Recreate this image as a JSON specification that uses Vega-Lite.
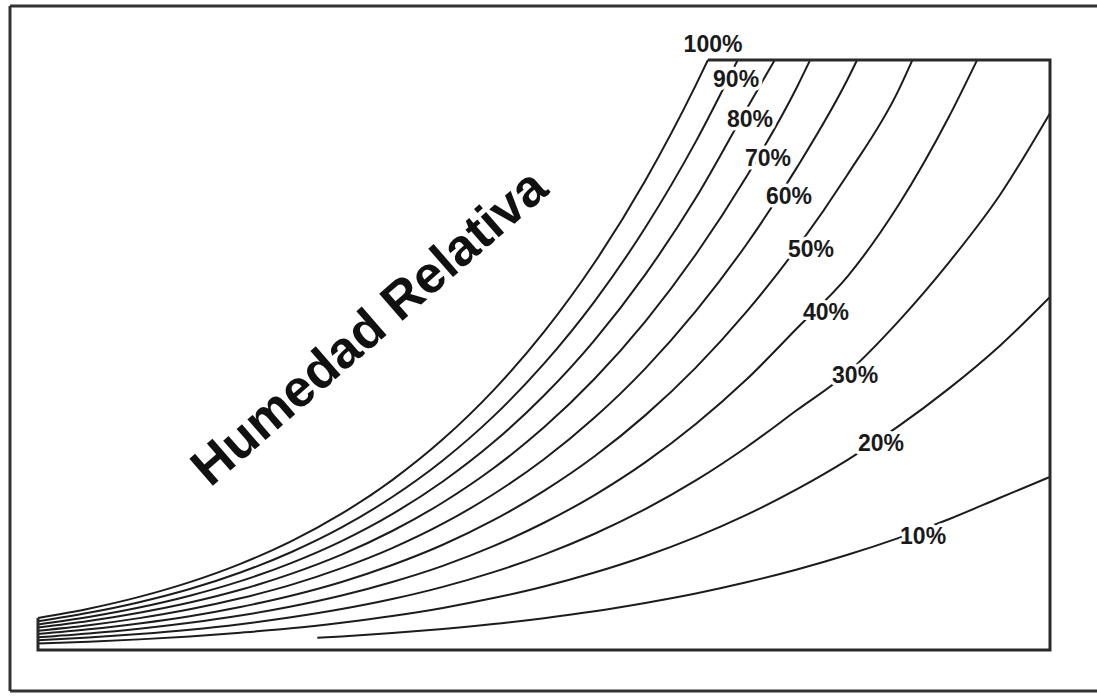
{
  "$schema": "https://vega.github.io/schema/vega-lite/v6.json",
  "width": 1087,
  "height": 685,
  "padding": {"left": 10, "top": 6, "right": 0, "bottom": 5},
  "autosize": {"type": "none"},
  "background": "white",
  "config": {"view": {"stroke": null}},
  "datasets": {
    "curves": [
      {"rh":"100%","t":0,"w":1.63},{"rh":"100%","t":2.5,"w":2.10},{"rh":"100%","t":5,"w":2.70},{"rh":"100%","t":7.5,"w":3.45},{"rh":"100%","t":10,"w":4.38},{"rh":"100%","t":12.5,"w":5.52},{"rh":"100%","t":15,"w":6.93},{"rh":"100%","t":17.5,"w":8.64},{"rh":"100%","t":20,"w":10.71},{"rh":"100%","t":22.5,"w":13.20},{"rh":"100%","t":25,"w":16.17},{"rh":"100%","t":27.5,"w":19.70},{"rh":"100%","t":30,"w":23.86},{"rh":"100%","t":32.5,"w":28.72},{"rh":"100%","t":33.1,"w":30},
      {"rh":"90%","t":0,"w":1.46},{"rh":"90%","t":2.5,"w":1.89},{"rh":"90%","t":5,"w":2.43},{"rh":"90%","t":7.5,"w":3.10},{"rh":"90%","t":10,"w":3.94},{"rh":"90%","t":12.5,"w":4.97},{"rh":"90%","t":15,"w":6.23},{"rh":"90%","t":17.5,"w":7.78},{"rh":"90%","t":20,"w":9.64},{"rh":"90%","t":22.5,"w":11.88},{"rh":"90%","t":25,"w":14.56},{"rh":"90%","t":27.5,"w":17.73},{"rh":"90%","t":30,"w":21.47},{"rh":"90%","t":32.5,"w":25.85},{"rh":"90%","t":34.57,"w":30},
      {"rh":"80%","t":0,"w":1.30},{"rh":"80%","t":2.5,"w":1.68},{"rh":"80%","t":5,"w":2.16},{"rh":"80%","t":7.5,"w":2.76},{"rh":"80%","t":10,"w":3.50},{"rh":"80%","t":12.5,"w":4.42},{"rh":"80%","t":15,"w":5.54},{"rh":"80%","t":17.5,"w":6.91},{"rh":"80%","t":20,"w":8.57},{"rh":"80%","t":22.5,"w":10.56},{"rh":"80%","t":25,"w":12.94},{"rh":"80%","t":27.5,"w":15.76},{"rh":"80%","t":30,"w":19.09},{"rh":"80%","t":32.5,"w":22.98},{"rh":"80%","t":35,"w":27.50},{"rh":"80%","t":36.4,"w":30},
      {"rh":"70%","t":0,"w":1.14},{"rh":"70%","t":2.5,"w":1.47},{"rh":"70%","t":5,"w":1.89},{"rh":"70%","t":7.5,"w":2.41},{"rh":"70%","t":10,"w":3.06},{"rh":"70%","t":12.5,"w":3.87},{"rh":"70%","t":15,"w":4.85},{"rh":"70%","t":17.5,"w":6.05},{"rh":"70%","t":20,"w":7.50},{"rh":"70%","t":22.5,"w":9.24},{"rh":"70%","t":25,"w":11.32},{"rh":"70%","t":27.5,"w":13.79},{"rh":"70%","t":30,"w":16.70},{"rh":"70%","t":32.5,"w":20.11},{"rh":"70%","t":35,"w":24.06},{"rh":"70%","t":37.5,"w":28.63},{"rh":"70%","t":38.15,"w":30},
      {"rh":"60%","t":0,"w":0.98},{"rh":"60%","t":2.5,"w":1.26},{"rh":"60%","t":5,"w":1.62},{"rh":"60%","t":7.5,"w":2.07},{"rh":"60%","t":10,"w":2.63},{"rh":"60%","t":12.5,"w":3.31},{"rh":"60%","t":15,"w":4.16},{"rh":"60%","t":17.5,"w":5.18},{"rh":"60%","t":20,"w":6.42},{"rh":"60%","t":22.5,"w":7.92},{"rh":"60%","t":25,"w":9.70},{"rh":"60%","t":27.5,"w":11.82},{"rh":"60%","t":30,"w":14.31},{"rh":"60%","t":32.5,"w":17.23},{"rh":"60%","t":35,"w":20.62},{"rh":"60%","t":37.5,"w":24.54},{"rh":"60%","t":40,"w":29.02},{"rh":"60%","t":40.47,"w":30},
      {"rh":"50%","t":0,"w":0.81},{"rh":"50%","t":2.5,"w":1.05},{"rh":"50%","t":5,"w":1.35},{"rh":"50%","t":7.5,"w":1.72},{"rh":"50%","t":10,"w":2.19},{"rh":"50%","t":12.5,"w":2.76},{"rh":"50%","t":15,"w":3.46},{"rh":"50%","t":17.5,"w":4.32},{"rh":"50%","t":20,"w":5.35},{"rh":"50%","t":22.5,"w":6.60},{"rh":"50%","t":25,"w":8.09},{"rh":"50%","t":27.5,"w":9.85},{"rh":"50%","t":30,"w":11.93},{"rh":"50%","t":32.5,"w":14.36},{"rh":"50%","t":35,"w":17.19},{"rh":"50%","t":37.5,"w":20.45},{"rh":"50%","t":40,"w":24.18},{"rh":"50%","t":42.5,"w":28.43},{"rh":"50%","t":43.2,"w":30},
      {"rh":"40%","t":0,"w":0.65},{"rh":"40%","t":2.5,"w":0.84},{"rh":"40%","t":5,"w":1.08},{"rh":"40%","t":7.5,"w":1.38},{"rh":"40%","t":10,"w":1.75},{"rh":"40%","t":12.5,"w":2.21},{"rh":"40%","t":15,"w":2.77},{"rh":"40%","t":17.5,"w":3.46},{"rh":"40%","t":20,"w":4.28},{"rh":"40%","t":22.5,"w":5.28},{"rh":"40%","t":25,"w":6.47},{"rh":"40%","t":27.5,"w":7.88},{"rh":"40%","t":30,"w":9.54},{"rh":"40%","t":32.5,"w":11.49},{"rh":"40%","t":35,"w":13.75},{"rh":"40%","t":37.5,"w":16.36},{"rh":"40%","t":40,"w":19.0},{"rh":"40%","t":42.5,"w":22.6},{"rh":"40%","t":45,"w":27.1},{"rh":"40%","t":46.4,"w":30},
      {"rh":"30%","t":0,"w":0.49},{"rh":"30%","t":2.5,"w":0.63},{"rh":"30%","t":5,"w":0.81},{"rh":"30%","t":7.5,"w":1.03},{"rh":"30%","t":10,"w":1.31},{"rh":"30%","t":12.5,"w":1.66},{"rh":"30%","t":15,"w":2.08},{"rh":"30%","t":17.5,"w":2.59},{"rh":"30%","t":20,"w":3.21},{"rh":"30%","t":22.5,"w":3.96},{"rh":"30%","t":25,"w":4.85},{"rh":"30%","t":27.5,"w":5.91},{"rh":"30%","t":30,"w":7.16},{"rh":"30%","t":32.5,"w":8.62},{"rh":"30%","t":35,"w":10.31},{"rh":"30%","t":37.5,"w":12.2},{"rh":"30%","t":40,"w":14.1},{"rh":"30%","t":42.5,"w":16.7},{"rh":"30%","t":45,"w":19.7},{"rh":"30%","t":47.5,"w":23.1},{"rh":"30%","t":50,"w":27.3},
      {"rh":"20%","t":0,"w":0.33},{"rh":"20%","t":2.5,"w":0.42},{"rh":"20%","t":5,"w":0.54},{"rh":"20%","t":7.5,"w":0.69},{"rh":"20%","t":10,"w":0.88},{"rh":"20%","t":12.5,"w":1.10},{"rh":"20%","t":15,"w":1.39},{"rh":"20%","t":17.5,"w":1.73},{"rh":"20%","t":20,"w":2.14},{"rh":"20%","t":22.5,"w":2.64},{"rh":"20%","t":25,"w":3.23},{"rh":"20%","t":27.5,"w":3.94},{"rh":"20%","t":30,"w":4.77},{"rh":"20%","t":32.5,"w":5.74},{"rh":"20%","t":35,"w":6.87},{"rh":"20%","t":37.5,"w":8.18},{"rh":"20%","t":40,"w":9.67},{"rh":"20%","t":42.5,"w":11.37},{"rh":"20%","t":45,"w":13.29},{"rh":"20%","t":47.5,"w":15.45},{"rh":"20%","t":50,"w":17.95},
      {"rh":"10%","t":13.8,"w":0.62},{"rh":"10%","t":15,"w":0.69},{"rh":"10%","t":17.5,"w":0.86},{"rh":"10%","t":20,"w":1.07},{"rh":"10%","t":22.5,"w":1.32},{"rh":"10%","t":25,"w":1.62},{"rh":"10%","t":27.5,"w":1.97},{"rh":"10%","t":30,"w":2.39},{"rh":"10%","t":32.5,"w":2.87},{"rh":"10%","t":35,"w":3.44},{"rh":"10%","t":37.5,"w":4.09},{"rh":"10%","t":40,"w":4.84},{"rh":"10%","t":42.5,"w":5.69},{"rh":"10%","t":45,"w":6.65},{"rh":"10%","t":47.5,"w":7.73},{"rh":"10%","t":50,"w":8.8}
    ],
    "box": [
      {"o":1,"t":33.1,"w":30},{"o":2,"t":50,"w":30},{"o":3,"t":50,"w":0},{"o":4,"t":0,"w":0},{"o":5,"t":0,"w":1.63}
    ],
    "frame": [
      {"side":"left","t":-1.383,"w":-2.085},
      {"side":"top","t":52.322,"w":32.746}
    ],
    "labels": [
      {"label":"100%","t":33.35,"w":30.76},
      {"label":"90%","t":34.49,"w":28.98},
      {"label":"80%","t":35.18,"w":26.95},
      {"label":"70%","t":36.07,"w":24.97},
      {"label":"60%","t":37.10,"w":23.03},
      {"label":"50%","t":38.19,"w":20.34},
      {"label":"40%","t":38.93,"w":17.14},
      {"label":"30%","t":40.37,"w":13.93},
      {"label":"20%","t":41.65,"w":10.47},
      {"label":"10%","t":43.73,"w":5.75}
    ],
    "title": [
      {"text":"Humedad Relativa","t":16.40,"w":16.37}
    ]
  },
  "layer": [
    {
      "data": {"values": [{"edge": -1.383}]},
      "mark": {"type": "rule", "stroke": "#333333", "strokeWidth": 3},
      "encoding": {"x": {"field": "edge", "type": "quantitative", "scale": {"domain": [-1.383, 52.322], "nice": false, "zero": false}, "axis": null}}
    },
    {
      "data": {"values": [{"edge": 32.746}, {"edge": -2.085}]},
      "mark": {"type": "rule", "stroke": "#333333", "strokeWidth": 3},
      "encoding": {"y": {"field": "edge", "type": "quantitative", "scale": {"domain": [-2.085, 32.746], "nice": false, "zero": false}, "axis": null}}
    },
    {
      "data": {"name": "curves"},
      "mark": {"type": "line", "interpolate": "monotone", "stroke": "#1c1c1c", "strokeWidth": 2},
      "encoding": {
        "x": {"field": "t", "type": "quantitative"},
        "y": {"field": "w", "type": "quantitative"},
        "detail": {"field": "rh"}
      }
    },
    {
      "data": {"name": "box"},
      "mark": {"type": "line", "stroke": "#2a2a2a", "strokeWidth": 3, "strokeJoin": "miter"},
      "encoding": {
        "x": {"field": "t", "type": "quantitative"},
        "y": {"field": "w", "type": "quantitative"},
        "order": {"field": "o", "type": "quantitative"}
      }
    },
    {
      "data": {"name": "labels"},
      "mark": {"type": "text", "font": "Liberation Sans", "fontWeight": "bold", "fontSize": 23, "align": "center", "baseline": "middle", "fill": "white", "stroke": "white", "strokeWidth": 7, "strokeJoin": "round"},
      "encoding": {
        "x": {"field": "t", "type": "quantitative"},
        "y": {"field": "w", "type": "quantitative"},
        "text": {"field": "label"}
      }
    },
    {
      "data": {"name": "labels"},
      "mark": {"type": "text", "font": "Liberation Sans", "fontWeight": "bold", "fontSize": 23, "align": "center", "baseline": "middle", "fill": "#1a1a1a"},
      "encoding": {
        "x": {"field": "t", "type": "quantitative"},
        "y": {"field": "w", "type": "quantitative"},
        "text": {"field": "label"}
      }
    },
    {
      "data": {"name": "title"},
      "mark": {"type": "text", "font": "Liberation Sans", "fontWeight": "bold", "fontSize": 52, "align": "center", "baseline": "middle", "angle": -41, "fill": "#111111"},
      "encoding": {
        "x": {"field": "t", "type": "quantitative"},
        "y": {"field": "w", "type": "quantitative"},
        "text": {"field": "text"}
      }
    }
  ]
}
